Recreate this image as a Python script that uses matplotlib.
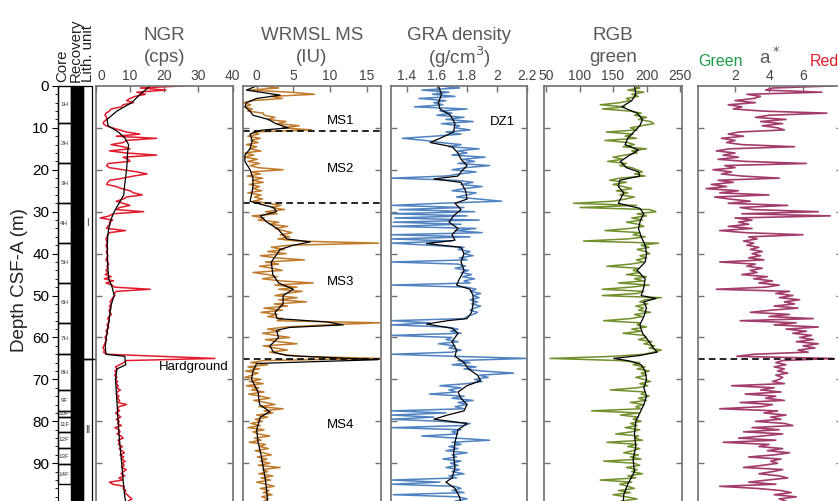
import matplotlib.pyplot as plt
import numpy as np
from matplotlib.patches import Rectangle
from matplotlib.transforms import ScaledTranslation

plt.rcParams['font.family'] = ['Liberation Sans', 'DejaVu Sans']

# sample depths of the high-resolution logs (m)
depth = np.arange(0, 100, 0.5)

# NGR (cps)
ngr = [25.5, 13.0, 20.5, 12.0, 14.5, 11.5, 10.0, 9.0, 11.0, 8.0, 7.5, 4.5, 4.0, 3.0, 2.7, 3.2, 3.2, 2.4, 2.2, 3.0,
       4.8, 7.0, 9.0, 12.9, 6.0, 17.8, 9.0, 8.0, 4.5, 8.0, 10.0, 4.0, 9.0, 17.8, 8.0, 9.5, 10.0, 3.7, 3.2, 4.0,
       8.0, 12.0, 15.0, 11.0, 8.0, 4.2, 3.5, 3.2, 6.0, 7.6, 10.0, 11.0, 13.6, 9.0, 8.0, 6.0, 8.0, 10.0, 7.0, 6.0,
       14.0, 5.0, 4.0, 1.3, 5.0, 4.0, 4.2, 3.5, 3.2, 8.7, 4.0, 3.5, 3.3, 3.0, 3.2, 3.4, 3.0, 3.2, 3.5, 3.1,
       3.3, 3.6, 3.2, 3.0, 3.4, 3.8, 3.3, 3.5, 3.0, 3.6, 2.8, 4.5, 2.5, 5.2, 3.0, 4.8, 5.5, 15.9, 6.0, 5.4,
       5.6, 5.0, 4.6, 4.2, 4.6, 4.0, 4.4, 3.9, 4.1, 4.6, 3.8, 3.5, 4.0, 3.7, 3.3, 3.8, 3.4, 3.0, 3.5, 3.1,
       2.7, 3.2, 2.9, 2.6, 2.4, 2.1, 2.6, 2.3, 3.2, 19.3, 34.8, 9.0, 8.2, 7.0, 5.8, 6.3, 5.6, 6.0, 5.5, 6.2,
       5.7, 6.4, 5.9, 6.6, 6.1, 7.2, 6.3, 6.0, 6.8, 6.2, 7.0, 6.5, 9.0, 6.8, 6.4, 7.0, 5.8, 6.6, 7.3, 6.0,
       6.9, 6.4, 7.5, 5.6, 6.8, 7.1, 6.2, 7.4, 8.0, 6.5, 7.0, 6.6, 7.8, 6.9, 7.6, 8.4, 7.1, 8.2, 7.5, 8.6,
       7.8, 8.3, 7.6, 8.9, 8.1, 7.4, 8.5, 6.8, 7.9, 4.0, 5.0, 8.3, 8.0, 8.8, 8.4, 9.2, 9.8, 10.6, 9.5, 11.0]
ngr_smooth_depth = [0, 2, 4, 6, 8, 9.5, 11, 12.5, 14, 16, 18, 20, 22, 24, 26, 28, 30, 32, 34, 36,
                    38, 40, 42, 44, 46, 48, 50, 52, 54, 56, 58, 60, 62, 64, 64.5, 65.5, 66.5, 67.5, 70, 74,
                    78, 82, 86, 90, 94, 98, 100]
ngr_smooth = [15.9, 13.0, 10.5, 6.2, 3.3, 3.6, 6.6, 8.6, 9.6, 9.3, 9.2, 9.0, 8.7, 8.4, 8.2, 6.8, 5.4, 4.4, 3.8, 3.5,
              3.4, 3.4, 3.5, 3.6, 3.8, 4.8, 5.4, 4.6, 4.2, 3.9, 3.5, 3.1, 2.8, 3.0, 8.5, 8.6, 8.8, 6.2, 5.8, 6.1,
              6.4, 6.7, 7.1, 7.6, 8.0, 8.5, 9.0]

# WRMSL magnetic susceptibility (IU)
ms = [0.5, 3.0, -1.0, 4.5, 7.9, 2.0, 3.5, -0.5, -1.8, -0.8, -1.6, -0.6, -1.2, 0.9, 1.0, 2.5, 1.5, 4.0, 2.8, 5.8,
      3.5, 7.5, -0.5, 0.3, -1.2, 0.5, -0.8, 0.2, -1.4, 0.0, -1.0, 0.6, -1.6, -0.4, -1.7, 0.1, -1.2, 0.4, -0.9, 0.2,
      3.6, -0.8, 0.5, -1.3, 0.8, -0.6, 0.9, -1.0, 0.4, -0.5, 0.7, -1.2, 0.6, -0.3, 0.8, -0.5, 1.5, 3.3, 2.0, 3.8,
      1.2, 2.8, -0.6, 1.0, 0.2, 3.0, 1.8, 4.2, 2.5, 3.6, 4.8, 3.2, 4.5, 2.9, 5.5, 16.6, 4.4, 2.0, 3.8, 1.5,
      4.0, 0.5, 2.6, 6.5, 1.2, 3.0, 0.4, 2.2, 3.5, -0.5, 1.5, 2.8, 0.8, 3.2, 7.7, 2.5, 5.5, 3.0, 6.2, 4.0,
      2.5, 5.5, 3.0, 6.8, 2.4, 4.2, 1.0, 3.5, 0.6, 2.8, 1.5, 3.6, 2.8, 16.8, 9.5, 4.0, 1.5, 3.2, 0.8, 2.6,
      4.5, 1.2, 3.0, 5.5, 0.9, 2.5, 4.2, 1.8, 3.5, 6.0, 16.8, 1.0, -0.8, 1.5, -1.2, 0.4, -1.5, 0.2, -0.6, -1.6,
      0.6, -1.0, 0.9, -1.4, 0.3, -0.7, 1.0, -1.1, 0.5, 1.8, -0.4, 1.2, 2.5, 0.3, 3.6, 1.0, 2.2, 0.0, 1.5, -0.2,
      0.8, -0.8, 0.5, -1.2, 1.0, -0.5, 0.2, 1.8, -0.3, 0.6, -1.0, 1.2, 0.4, 1.6, -0.2, 0.9, 2.0, 0.1, 1.4, 0.5,
      1.8, 0.2, 3.2, 0.8, 1.5, 0.3, 2.2, 0.6, 1.9, 0.0, 1.3, 2.4, 0.5, 1.7, 0.9, 2.1, 0.7, 1.6, 1.0, 1.4]
ms_smooth_depth = [0, 1, 2.2, 3, 4, 5, 6, 7, 8, 9, 10, 10.6, 11.5, 13, 15, 16.5, 18, 20, 22, 24,
                   26, 27.5, 28.2, 29, 30, 31, 32.5, 34, 35.5, 36.5, 37.2, 38, 39, 42, 45, 47, 48.5, 50, 52, 54,
                   55.5, 56.3, 57, 57.6, 58.3, 60, 62, 63.5, 64.3, 64.8, 65.3, 66.2, 68, 70, 73, 76, 77.7, 79, 82, 85,
                   88, 91, 94, 97, 100]
ms_smooth = [0.0, -1.4, 3.2, 0.0, -1.4, -1.6, -0.9, -0.5, 1.6, 2.6, 4.3, 0.5, -0.9, -0.6, -0.9, -1.6, -1.6, -0.9, -0.5, -0.5,
             -0.7, -0.9, 0.5, 2.3, 2.7, 0.5, 1.4, 2.8, 3.6, 4.1, 7.3, 5.0, 3.2, 2.0, 2.2, 3.0, 5.0, 3.6, 3.6, 2.5,
             2.8, 9.6, 11.8, 4.5, 2.7, 3.0, 1.8, 2.3, 4.1, 10.0, 16.5, 0.0, -0.5, -0.7, 0.2, 0.4, 1.8, 0.5, 0.0, 0.2,
             0.6, 0.9, 1.2, 1.4, 1.5]
ms_units = ['MS1', 'MS2', 'MS3', 'MS4']
ms_unit_depth = [8.45, 19.8, 46.7, 80.9]
ms_boundaries = [10.7, 28.0, 65.1]

# GRA bulk density (g/cm3)
gra = [1.62, 1.75, 1.50, 1.68, 1.57, 1.72, 1.48, 1.66, 1.58, 1.64, 1.45, 1.80, 1.62, 1.70, 1.60, 1.78, 1.66, 1.84, 1.63, 1.75,
       1.72, 1.82, 1.66, 1.76, 1.58, 1.37, 1.52, 1.62, 1.76, 1.68, 1.88, 1.74, 1.80, 1.70, 1.92, 1.77, 1.85, 1.74, 1.95, 1.79,
       1.70, 1.86, 1.75, 1.66, 1.30, 1.72, 1.84, 1.76, 1.90, 1.78, 1.70, 1.86, 1.80, 1.73, 1.88, 2.03, 1.62, 1.30, 1.78, 1.35,
       1.85, 1.30, 1.80, 1.32, 1.88, 1.31, 1.76, 1.30, 1.86, 1.72, 1.90, 1.30, 1.82, 1.30, 1.70, 1.30, 1.55, 1.78, 1.74, 1.82,
       1.78, 1.84, 1.75, 1.80, 1.30, 1.74, 1.79, 1.72, 1.81, 1.76, 1.83, 1.77, 1.85, 1.78, 1.82, 1.30, 1.80, 1.86, 1.82, 1.89,
       1.84, 1.88, 1.82, 1.87, 1.83, 1.89, 1.85, 1.82, 1.87, 1.84, 1.80, 1.78, 1.30, 1.55, 1.30, 1.66, 1.74, 1.69, 1.76, 1.30,
       1.70, 1.66, 1.74, 1.61, 1.72, 1.68, 1.76, 1.70, 1.30, 1.72, 2.20, 1.74, 1.82, 1.70, 1.86, 1.78, 1.90, 2.11, 1.88, 1.94,
       1.85, 1.90, 1.80, 1.62, 1.76, 1.68, 1.73, 1.55, 1.78, 1.70, 1.84, 1.74, 1.80, 1.72, 1.78, 1.30, 1.66, 1.30, 1.58, 1.30,
       1.62, 1.82, 1.78, 1.30, 1.76, 1.70, 1.74, 1.50, 1.72, 1.95, 1.70, 1.76, 1.68, 1.74, 1.66, 1.80, 1.70, 1.73, 1.64, 1.76,
       1.69, 1.74, 1.66, 1.75, 1.70, 1.78, 1.68, 1.73, 1.30, 1.62, 1.30, 1.72, 1.76, 1.70, 1.78, 1.31, 1.74, 1.80, 1.72, 1.78]
gra_smooth_depth = [0, 2, 4, 5.5, 7, 9, 11, 12.5, 13.5, 14.5, 16, 17.5, 19, 20.5, 21.5, 22.2, 23, 25, 27, 28,
                    29.5, 31, 32.5, 34, 35.5, 36.8, 37.6, 38.5, 40, 42, 44, 46, 47.5, 48.5, 50, 52, 54, 55.5, 56, 56.8,
                    57.8, 59, 61, 63, 64.5, 66, 67.5, 69, 70.3, 71.5, 73, 74.5, 76, 77.5, 78.5, 79.5, 80.5, 82, 85, 88,
                    91, 93.5, 94.5, 96, 98, 100]
gra_smooth = [1.61, 1.63, 1.61, 1.62, 1.69, 1.72, 1.71, 1.62, 1.555, 1.70, 1.74, 1.76, 1.80, 1.76, 1.74, 1.58, 1.76, 1.79, 1.80, 1.72,
              1.76, 1.71, 1.68, 1.74, 1.70, 1.72, 1.53, 1.76, 1.78, 1.76, 1.78, 1.75, 1.73, 1.82, 1.84, 1.84, 1.83, 1.80, 1.67, 1.53,
              1.70, 1.74, 1.70, 1.73, 1.72, 1.78, 1.81, 1.87, 1.89, 1.80, 1.74, 1.76, 1.80, 1.78, 1.67, 1.58, 1.80, 1.74, 1.72, 1.71,
              1.72, 1.70, 1.66, 1.72, 1.75, 1.76]

# RGB green channel
rgb = [180, 190, 172, 196, 178, 188, 170, 176, 160, 131, 168, 134, 175, 192, 182, 200, 188, 206, 211, 192,
       176, 186, 140, 180, 168, 185, 138, 172, 182, 165, 200, 178, 186, 168, 150, 165, 142, 170, 160, 178,
       186, 194, 182, 198, 160, 145, 170, 150, 165, 178, 155, 172, 160, 182, 168, 150, 91, 185, 101, 205,
       214, 186, 200, 178, 194, 170, 188, 196, 175, 138, 190, 180, 198, 172, 106, 218, 192, 204, 186, 198,
       205, 190, 200, 185, 196, 176, 141, 188, 180, 190, 170, 200, 182, 196, 158, 204, 176, 134, 196, 186,
       134, 222, 198, 190, 202, 184, 196, 188, 206, 182, 194, 176, 136, 190, 186, 200, 178, 192, 165, 196,
       200, 188, 208, 196, 212, 204, 222, 210, 196, 150, 56, 160, 190, 180, 198, 186, 204, 192, 200, 184,
       196, 206, 190, 202, 186, 146, 198, 192, 204, 188, 200, 176, 196, 184, 192, 118, 190, 161, 188, 180,
       192, 176, 186, 168, 190, 178, 154, 188, 182, 194, 141, 186, 172, 190, 180, 166, 188, 176, 192, 136,
       182, 190, 170, 186, 178, 194, 172, 184, 131, 178, 160, 172, 182, 158, 176, 150, 170, 186, 162, 174]
rgb_smooth_depth = [0, 2, 3.5, 5, 6.5, 8, 9.5, 11, 12.5, 14, 15.3, 16.5, 18, 19.5, 20.5, 21.5, 22.5, 24, 25.5, 27,
                    28, 29.2, 30.5, 32, 34, 36, 38, 40, 42, 44, 46, 48, 50, 50.7, 51.5, 53, 55, 57, 59, 61,
                    62.5, 63.5, 64.3, 65, 65.6, 66.5, 68, 70, 72, 74, 76, 78, 80, 83, 86, 89, 92, 95, 97.5, 100]
rgb_smooth = [182, 184, 178, 163, 186, 194, 190, 181, 172, 168, 188, 175, 161, 170, 188, 190, 160, 158, 166, 161,
              158, 190, 196, 191, 188, 192, 198, 200, 198, 186, 198, 196, 192, 214, 196, 200, 196, 190, 194, 204,
              210, 216, 190, 151, 175, 192, 198, 200, 196, 200, 196, 190, 184, 182, 184, 180, 182, 172, 166, 165]

# colour reflectance a*
astar = [7.8, 4.2, 3.8, 7.1, 2.7, 3.5, 3.1, 2.0, 3.2, 1.6, 2.4, 1.9, 3.6, 7.4, 4.0, 3.2, 5.0, 3.5, 4.8, 3.6,
         4.5, 4.9, 2.2, 1.6, 2.5, 1.2, 2.0, 1.5, 2.4, 5.5, 1.7, 0.9, 2.0, 1.3, 2.2, 1.0, 2.6, 6.2, 1.4, 2.0,
         0.7, 1.8, 1.2, 2.4, 4.6, 1.0, 1.9, 0.6, 1.5, 0.3, 2.2, 1.1, 4.0, 0.8, 1.7, 2.9, 1.6, 5.1, 2.3, 3.1,
         6.9, 2.4, 7.6, 2.0, 3.0, 2.2, 2.8, 1.6, 3.0, 1.1, 2.6, 6.0, 2.8, 3.3, 2.5, 3.1, 2.7, 3.4, 2.9, 3.6,
         3.0, 3.5, 2.8, 3.7, 1.1, 3.2, 2.7, 3.6, 2.9, 3.3, 2.4, 3.9, 3.1, 4.2, 3.4, 4.6, 3.8, 0.9, 5.2, 4.4,
         5.4, 4.6, 5.8, 4.9, 5.5, 4.3, 5.7, 4.1, 2.9, 5.2, 4.0, 6.6, 2.3, 5.6, 4.3, 6.9, 5.0, 6.2, 5.4, 6.5,
         5.8, 6.6, 5.6, 6.9, 6.0, 6.7, 5.7, 6.3, 3.1, 2.1, 7.8, 4.8, 4.4, 5.0, 4.3, 4.9, 4.5, 5.1, 4.4, 4.8,
         4.6, 4.2, 4.9, 1.8, 4.3, 3.5, 4.7, 2.6, 4.4, 3.8, 4.9, 2.3, 4.2, 3.6, 1.1, 4.5, 3.7, 5.0, 4.1, 4.7,
         3.2, 4.9, 5.4, 3.0, 4.6, 2.5, 4.8, 3.6, 2.2, 4.4, 1.3, 4.0, 3.4, 4.8, 3.9, 5.2, 4.3, 2.8, 4.7, 4.1,
         4.5, 3.6, 2.5, 4.8, 4.2, 3.4, 4.6, 5.1, 3.9, 2.8, 4.4, 1.1, 3.3, 4.7, 5.3, 4.3, 5.6, 4.6, 5.0, 4.4]

# cores, recovery and lithologic units
core_names = ['1H', '2H', '3H', '4H', '5H', '6H', '7H', '8H', '9F', '10F', '11F', '12F', '13F', '14F']
core_top = [0, 8.9, 18.5, 28.0, 37.5, 46.9, 56.5, 64.0, 72.5, 77.5, 78.9, 82.5, 86.4, 90.2]
core_bot = [8.9, 18.5, 28.0, 37.5, 46.9, 56.5, 64.0, 72.5, 77.5, 78.9, 82.5, 86.4, 90.2, 95.0]
lith_units = ['I', 'II']
lith_top = [0, 65.2]
lith_bot = [65.2, 100.2]
hardground = 65.1

W, H = 838.0, 501.0
Y0, PXM, Y1 = 85.9, 4.193, 506.0
DMAX = (Y1 - Y0) / PXM
GRAY = '#707070'
TCOL = '#595959'
LW = 1.1

fig = plt.figure(figsize=(W / 100, H / 100), dpi=100)


def ptext(x, y, s, **kw):
    fig.text(x / W, 1 - y / H, s, **kw)


def panel(x0, x1):
    ax = fig.add_axes([x0 / W, 1 - Y1 / H, (x1 - x0) / W, (Y1 - Y0) / H])
    ax.set_ylim(DMAX, 0)
    return ax


def style(ax, xlim, ticks, labels):
    ax.set_xlim(xlim)
    ax.xaxis.tick_top()
    ax.set_xticks(ticks)
    ax.set_xticklabels(labels)
    ax.set_yticks(range(10, 100, 10))
    ax.tick_params(axis='x', direction='in', length=4, width=1, color=GRAY,
                   labelsize=10, labelcolor='#444444', pad=2)
    ax.tick_params(axis='y', direction='in', length=4, width=1, color=GRAY,
                   left=True, right=True, labelleft=False)
    for sp in ax.spines.values():
        sp.set_color(GRAY)
        sp.set_linewidth(1.2)
    ax.spines['bottom'].set_visible(False)


# core / recovery / lith. unit column
ax0 = panel(57.7, 92.3)
ax0.set_xlim(0, 34.6)
ax0.set_xticks([])
ax0.set_yticks(range(0, 100, 10))
ax0.set_yticks(np.arange(0, 100, 2), minor=True)
ax0.tick_params(axis='y', which='major', direction='out', length=4, labelsize=11, pad=2)
ax0.tick_params(axis='y', which='minor', direction='out', length=2)
for name, sp in ax0.spines.items():
    sp.set_visible(name == 'left')
for name, t, b in zip(core_names, core_top, core_bot):
    ax0.add_patch(Rectangle((0, t), 13.3, b - t, fill=False, ec='black', lw=1, clip_on=False))
    ax0.text(6.6, (t + b) / 2, name, fontsize=4.5, ha='center', va='center', color='#333333')
ax0.add_patch(Rectangle((13.3, 0), 12.3, DMAX, color='black', clip_on=False))
for u, t, b in zip(lith_units, lith_top, lith_bot):
    ax0.add_patch(Rectangle((25.6, t), 9.0, b - t, fill=False, ec='black', lw=0.9, clip_on=False))
    ax0.text(30.1, (t + min(b, 99)) / 2, u, fontsize=7, ha='center', va='center', color='#333333')
ax0.plot([25.6, 38.0], [hardground, hardground], color='black', lw=1, clip_on=False)

ptext(75.3, 82, 'Core\nRecovery\nLith. unit', rotation=90, ha='center', va='bottom',
      multialignment='left', linespacing=0.9, fontsize=10.8, color='#222222')
ptext(19.5, 280, 'Depth CSF-A (m)', rotation=90, ha='center', va='center', fontsize=13.5, color='#222222')

# NGR
ax1 = panel(95.7, 232.7)
style(ax1, (0, 40), [0, 10, 20, 30, 40], ['0', '10', '20', '30', '40'])
zero_lab = ax1.get_xticklabels()[0]
zero_lab.set_ha('left')
zero_lab.set_transform(zero_lab.get_transform() + ScaledTranslation(1.5 / 72, 0, fig.dpi_scale_trans))
ax1.plot(ngr, depth, color='#e31a2c', lw=LW)
ax1.plot(ngr_smooth, ngr_smooth_depth, color='black', lw=0.9)
ax1.text(18.3, 67.0, 'Hardground', fontsize=9.5, va='center', ha='left')
ptext(164.2, 35, 'NGR', ha='center', va='center', fontsize=13.5, color=TCOL)
ptext(164.2, 57, '(cps)', ha='center', va='center', fontsize=13.5, color=TCOL)

# WRMSL MS
ax2 = panel(242.7, 380.7)
style(ax2, (-1.9, 16.9), [0, 5, 10, 15], ['0', '5', '10', '15'])
ax2.plot(ms, depth, color='#c17a2a', lw=LW)
ax2.plot(ms_smooth, ms_smooth_depth, color='black', lw=0.9)
for b in ms_boundaries:
    ax2.axhline(b, color='black', lw=1.2, ls=(0, (4, 2.5)))
for u, d in zip(ms_units, ms_unit_depth):
    ax2.text(9.56, d, u, fontsize=9.5, va='center', ha='left')
ptext(311.7, 35, 'WRMSL MS', ha='center', va='center', fontsize=13.5, color=TCOL)
ptext(311.7, 57, '(IU)', ha='center', va='center', fontsize=13.5, color=TCOL)

# GRA density
ax3 = panel(391.0, 527.3)
style(ax3, (1.295, 2.2), [1.4, 1.6, 1.8, 2.0, 2.2], ['1.4', '1.6', '1.8', '2', '2.2'])
ax3.plot(gra, depth, color='#4f82c0', lw=LW)
ax3.plot(gra_smooth, gra_smooth_depth, color='black', lw=0.9)
ax3.text(1.95, 8.5, 'DZ1', fontsize=9.5, va='center', ha='left')
ptext(459.2, 35, 'GRA density', ha='center', va='center', fontsize=13.5, color=TCOL)
ptext(459.2, 57, '(g/cm$^3$)', ha='center', va='center', fontsize=13.5, color=TCOL)

# RGB green
ax4 = panel(544.0, 681.7)
style(ax4, (47, 252.5), [50, 100, 150, 200, 250], ['50', '100', '150', '200', '250'])
ax4.plot(rgb, depth, color='#71902c', lw=LW)
ax4.plot(rgb_smooth, rgb_smooth_depth, color='black', lw=0.9)
ptext(612.9, 35, 'RGB', ha='center', va='center', fontsize=13.5, color=TCOL)
ptext(612.9, 57, 'green', ha='center', va='center', fontsize=13.5, color=TCOL)

# a*
ax5 = panel(698.3, 842.0)
style(ax5, (-0.16, 8.29), [2, 4, 6], ['2', '4', '6'])
ax5.plot(astar, depth, color='#a33b6b', lw=1.2)
ax5.axhline(hardground, color='black', lw=1.2, ls=(0, (4, 2.5)))
ptext(769.3, 57, 'a$^*$', ha='center', va='center', fontsize=13.5, color=TCOL)
ptext(720, 62, 'Green', ha='center', va='center', fontsize=11.5, color='#1e9a4a')
ptext(824, 62, 'Red', ha='center', va='center', fontsize=11.5, color='#e0202e')

fig.savefig('out.png', dpi=100)
